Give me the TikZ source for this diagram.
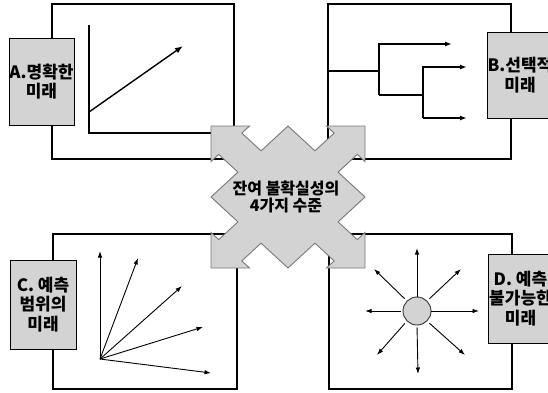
\documentclass[tikz,border=0pt]{standalone}
\usepackage{fontspec}
\newfontfamily\kr{Noto Sans CJK KR}
\usetikzlibrary{arrows.meta}
\definecolor{boxgray}{RGB}{211,211,211}
\definecolor{edgegray}{RGB}{120,120,120}
\tikzset{
  frame/.style={draw=black, line width=1.3pt, inner sep=0pt, outer sep=0pt},
  labelbox/.style={draw=black, fill=boxgray, line width=0.8pt, inner sep=0pt,
    align=center, font=\kr\bfseries\fontsize{17}{19.5}\selectfont},
  axisline/.style={line width=1.4pt, line join=miter},
  bigarr/.style={line width=1.4pt, -{Latex[length=8pt,width=6pt]}},
  tree/.style={line width=1.5pt, line join=miter},
  treearr/.style={tree, -{Latex[length=7pt,width=5pt]}},
  thinarr/.style={line width=0.9pt, -{Latex[length=6.5pt,width=4.5pt]}},
}
\begin{document}
\begin{tikzpicture}[x=1pt,y=-1pt]
\useasboundingbox (0,0) rectangle (548,392);
\clip (0,0) rectangle (548,392);
\fill[white] (0,0) rectangle (548,392);

% frames
\node[frame, minimum width=182pt, minimum height=155pt] (fA) at (143,81.5) {};
\node[frame, minimum width=183pt, minimum height=155pt] (fB) at (419.5,81.5) {};
\node[frame, minimum width=184pt, minimum height=155pt] (fC) at (145,311.5) {};
\node[frame, minimum width=183pt, minimum height=155pt] (fD) at (420.5,311.5) {};

% A: clear future
\coordinate (aT) at (89,25);
\coordinate (a0) at (89,133);
\coordinate (aR) at (225,133);
\coordinate (aS) at (89,112);
\coordinate (aE) at (183,46);
\draw[axisline] (aT) -- (a0) -- (aR);
\draw[bigarr] (aS) -- (aE);

% B: alternative futures
\coordinate (b0) at (328,71);
\coordinate (b1) at (379,71);
\coordinate (b1t) at (379,44);
\coordinate (b1b) at (379,95);
\coordinate (b2) at (423,95);
\coordinate (b2t) at (423,67);
\coordinate (b2b) at (423,118);
\coordinate (bE1) at (452,44);
\coordinate (bE2) at (467,67);
\coordinate (bE3) at (467,118);
\draw[tree] (b0) -- (b1);
\draw[treearr] (b1b) -- (b1t) -- (bE1);
\draw[tree] (b1b) -- (b2);
\draw[treearr] (b2b) -- (b2t) -- (bE2);
\draw[treearr] (b2b) -- (bE3);

% C: range of futures
\coordinate (c0) at (100,359);
\coordinate (cE1) at (100,251);
\coordinate (cE2) at (138,258);
\coordinate (cE3) at (182,286);
\coordinate (cE4) at (203,327);
\coordinate (cE5) at (211,373);
\foreach \e in {cE1,cE2,cE3,cE4,cE5} \draw[thinarr] (c0) -- (\e);

% D: true ambiguity
\node[circle, draw=black!80, fill=boxgray, line width=0.9pt, minimum size=28pt, inner sep=0pt] (sun) at (417,311) {};
\coordinate (dN) at (417,248);
\coordinate (dS) at (418,374);
\coordinate (dW) at (365,311);
\coordinate (dE) at (479,311);
\coordinate (dNW) at (374,269);
\coordinate (dNE) at (461,269);
\coordinate (dSW) at (377,355);
\coordinate (dSE) at (465,355);
\draw[thinarr] (sun.north) -- (dN);
\draw[thinarr, shorten <=2pt] (sun.south) -- (dS);
\draw[thinarr, shorten <=2pt] (sun.west) -- (dW);
\draw[thinarr] (sun.east) -- (dE);
\draw[thinarr, shorten <=3pt] (sun.north west) -- (dNW);
\draw[thinarr, shorten <=3pt] (sun.north east) -- (dNE);
\draw[thinarr, shorten <=3pt] (sun.south west) -- (dSW);
\draw[thinarr, shorten <=3pt] (sun.south east) -- (dSE);

% label boxes
\node[labelbox, minimum width=65pt, minimum height=87pt] (lA) at (41.5,81.5) {A.명확한\\미래};
\node[labelbox, minimum width=64pt, minimum height=86pt] (lB) at (520,75) {B.선택적\\미래};
\node[labelbox, minimum width=66pt, minimum height=89pt] (lC) at (43,304.5) {C. 예측\\범위의\\미래};
\node[labelbox, minimum width=64pt, minimum height=89pt] (lD) at (520.5,298.5) {D. 예측\\불가능한\\미래};

% central four-way arrow
\begin{scope}[shift={(288,197)}, xscale=77, yscale=71]
\filldraw[fill=boxgray, draw=edgegray, line width=0.9pt, line join=miter]
 (0,-1) -- (0.35,-0.65) -- (0.6,-0.9) -- (0.5,-1) -- (1,-1) -- (1,-0.5) -- (0.9,-0.6) -- (0.65,-0.35)
 -- (1,0) -- (0.65,0.35) -- (0.9,0.6) -- (1,0.5) -- (1,1) -- (0.5,1) -- (0.6,0.9) -- (0.35,0.65)
 -- (0,1) -- (-0.35,0.65) -- (-0.6,0.9) -- (-0.5,1) -- (-1,1) -- (-1,0.5) -- (-0.9,0.6) -- (-0.65,0.35)
 -- (-1,0) -- (-0.65,-0.35) -- (-0.9,-0.6) -- (-1,-0.5) -- (-1,-1) -- (-0.5,-1) -- (-0.6,-0.9) -- (-0.35,-0.65)
 -- cycle;
\end{scope}
\node[font=\kr\bfseries\fontsize{16}{17.5}\selectfont, align=center] (ctr) at (286,197) {잔여 불확실성의\\4가지 수준};
\end{tikzpicture}
\end{document}
